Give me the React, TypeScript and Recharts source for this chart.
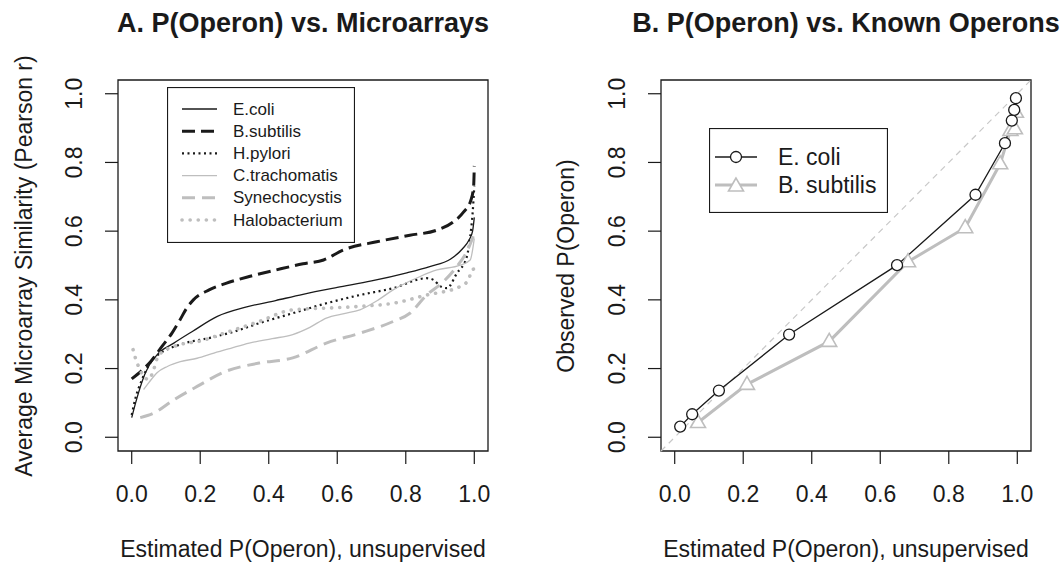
import React from 'react';
import { LineChart, Line, XAxis, YAxis, ReferenceArea, ReferenceLine, Legend } from 'recharts';

const FONT = '"Liberation Sans", Arial, Helvetica, sans-serif';
const INK = '#1a1a1a';
const GRAY = '#bebebe';

const axisTicks = [0, 0.2, 0.4, 0.6, 0.8, 1.0];
const domain: [number, number] = [-0.04, 1.04];

// Panel A: estimated P(operon) vs average microarray similarity
const ecoliP = [0, 0.01, 0.02, 0.04, 0.074, 0.123, 0.177, 0.25, 0.33, 0.42, 0.5, 0.6, 0.7, 0.8, 0.87, 0.93, 0.965, 0.985, 0.995, 1.0];
const ecoliR = [0.057, 0.095, 0.13, 0.188, 0.24, 0.274, 0.308, 0.352, 0.378, 0.398, 0.416, 0.436, 0.455, 0.478, 0.497, 0.518, 0.548, 0.575, 0.6, 0.64];

const bsubP = [0, 0.03, 0.055, 0.089, 0.118, 0.14, 0.16, 0.18, 0.226, 0.275, 0.343, 0.421, 0.5, 0.56, 0.617, 0.715, 0.812, 0.891, 0.939, 0.969, 0.99, 0.998, 1.0];
const bsubR = [0.17, 0.195, 0.22, 0.265, 0.304, 0.34, 0.375, 0.4, 0.429, 0.448, 0.468, 0.487, 0.505, 0.516, 0.545, 0.569, 0.588, 0.603, 0.627, 0.656, 0.69, 0.73, 0.79];

const hpylP = [0, 0.01, 0.03, 0.06, 0.084, 0.142, 0.24, 0.3, 0.372, 0.47, 0.568, 0.666, 0.763, 0.861, 0.881, 0.9, 0.92, 0.949, 0.978, 0.988, 0.995, 1.0];
const hpylR = [0.065, 0.11, 0.168, 0.225, 0.245, 0.27, 0.292, 0.308, 0.332, 0.361, 0.39, 0.414, 0.434, 0.463, 0.458, 0.44, 0.434, 0.477, 0.525, 0.584, 0.651, 0.73];

const ctraP = [0.035, 0.05, 0.074, 0.104, 0.142, 0.191, 0.24, 0.289, 0.343, 0.41, 0.47, 0.52, 0.568, 0.62, 0.666, 0.72, 0.763, 0.842, 0.891, 0.959, 0.988, 1.0];
const ctraR = [0.139, 0.159, 0.188, 0.206, 0.22, 0.23, 0.245, 0.259, 0.274, 0.287, 0.299, 0.32, 0.347, 0.36, 0.371, 0.4, 0.429, 0.468, 0.487, 0.501, 0.516, 0.579];

const synP = [0.025, 0.064, 0.123, 0.191, 0.27, 0.372, 0.47, 0.568, 0.666, 0.763, 0.812, 0.861, 0.91, 0.949, 0.978, 1.0];
const synR = [0.057, 0.07, 0.109, 0.148, 0.19, 0.216, 0.231, 0.274, 0.303, 0.337, 0.361, 0.414, 0.453, 0.497, 0.54, 0.593];

const haloP = [0.004, 0.011, 0.02, 0.035, 0.05, 0.064, 0.079, 0.142, 0.2, 0.27, 0.372, 0.47, 0.568, 0.666, 0.763, 0.861, 0.959, 0.983, 0.993, 1.0];
const haloR = [0.255, 0.23, 0.206, 0.177, 0.168, 0.197, 0.24, 0.27, 0.28, 0.303, 0.337, 0.371, 0.376, 0.381, 0.39, 0.414, 0.439, 0.458, 0.487, 0.49];

// Panel B: estimated vs observed P(operon)
const ecoliEst = [0.016, 0.051, 0.129, 0.334, 0.649, 0.878, 0.964, 0.984, 0.991, 0.996];
const ecoliObs = [0.031, 0.067, 0.136, 0.299, 0.501, 0.706, 0.856, 0.922, 0.953, 0.987];
const bsubEst = [0.068, 0.211, 0.451, 0.681, 0.848, 0.95, 0.98, 0.993, 0.996];
const bsubObs = [0.043, 0.154, 0.279, 0.511, 0.61, 0.796, 0.893, 0.898, 0.946];

const zip = (xs: number[], ys: number[]) => xs.map((x, i) => ({ x, y: ys[i] }));

type Style = { name: string; data: { x: number; y: number }[]; stroke: string; width: number; dash?: string; cap?: 'round' | 'butt' };

const seriesA: Style[] = [
  { name: 'E.coli', data: zip(ecoliP, ecoliR), stroke: INK, width: 1.3 },
  { name: 'B.subtilis', data: zip(bsubP, bsubR), stroke: INK, width: 3, dash: '13 6' },
  { name: 'H.pylori', data: zip(hpylP, hpylR), stroke: INK, width: 2.2, dash: '2 3.5' },
  { name: 'C.trachomatis', data: zip(ctraP, ctraR), stroke: GRAY, width: 1.3 },
  { name: 'Synechocystis', data: zip(synP, synR), stroke: GRAY, width: 3, dash: '13 7' },
  { name: 'Halobacterium', data: zip(haloP, haloR), stroke: GRAY, width: 3.6, dash: '0.1 8', cap: 'round' },
];

const textStyle = { fontFamily: FONT, fill: INK };

const YTick = (props: any) => {
  const { x, y, payload } = props;
  return (
    <text x={x} y={y} transform={`rotate(-90 ${x} ${y})`} textAnchor="middle" fontSize={23} {...textStyle}>
      {Number(payload.value).toFixed(1)}
    </text>
  );
};

const xTitle = (cx: number) => () => (
  <text x={cx} y={557} textAnchor="middle" fontSize={23} {...textStyle}>
    Estimated P(Operon), unsupervised
  </text>
);

const yTitle = (bx: number, label: string) => () => (
  <text x={bx} y={266} transform={`rotate(-90 ${bx} 266)`} textAnchor="middle" fontSize={23} {...textStyle}>
    {label}
  </text>
);

const LegendA = () => (
  <svg width={188} height={156} style={{ display: 'block' }}>
    <rect x={0.5} y={0.5} width={187} height={155} fill="#fff" stroke={INK} strokeWidth={1.2} />
    {seriesA.map((s, i) => {
      const y = 22 + i * 22.2;
      return (
        <g key={s.name}>
          <line x1={15} x2={50} y1={y} y2={y} stroke={s.stroke} strokeWidth={s.width} strokeDasharray={s.dash} strokeLinecap={s.cap || 'butt'} />
          <text x={66} y={y} dominantBaseline="central" fontSize={17} {...textStyle}>{s.name}</text>
        </g>
      );
    })}
  </svg>
);

const triangle = (cx: number, cy: number, key?: any) => (
  <polygon key={key} points={`${cx},${cy - 8} ${cx - 7.5},${cy + 5} ${cx + 7.5},${cy + 5}`} fill="#fff" stroke={GRAY} strokeWidth={1.6} />
);

const LegendB = () => (
  <svg width={179} height={85} style={{ display: 'block' }}>
    <rect x={0.5} y={0.5} width={178} height={84} fill="#fff" stroke={INK} strokeWidth={1.2} />
    <line x1={6} x2={48} y1={29} y2={29} stroke={INK} strokeWidth={1.3} />
    <circle cx={27} cy={29} r={5.5} fill="#fff" stroke={INK} strokeWidth={1.3} />
    <text x={69} y={29} dominantBaseline="central" fontSize={23} {...textStyle}>E. coli</text>
    <line x1={6} x2={48} y1={57} y2={57} stroke={GRAY} strokeWidth={3} />
    {triangle(27, 58)}
    <text x={69} y={57} dominantBaseline="central" fontSize={23} {...textStyle}>B. subtilis</text>
  </svg>
);

const titleStyle: React.CSSProperties = {
  position: 'absolute', top: 10, width: 520, textAlign: 'center',
  fontFamily: FONT, fontWeight: 'bold', fontSize: 27, lineHeight: '27px', color: INK,
};

export default function App() {
  return (
    <div style={{ position: 'absolute', left: 0, top: 0, width: 1062, height: 562, background: '#fff' }}>
      <div style={{ ...titleStyle, left: 303 - 260 }}>A. P(Operon) vs. Microarrays</div>
      <div style={{ ...titleStyle, left: 846 - 260 }}>B. P(Operon) vs. Known Operons</div>

      <div style={{ position: 'absolute', left: 0, top: 0 }}>
        <LineChart width={531} height={562} margin={{ top: 80, right: 43, bottom: 0, left: 0 }}>
          <XAxis type="number" dataKey="x" domain={domain} ticks={axisTicks} allowDataOverflow
            height={111} axisLine={false} tickSize={13} tickMargin={22}
            tickLine={{ stroke: INK, strokeWidth: 1.2 }}
            tick={{ fontSize: 23, fontFamily: FONT, fill: INK }}
            tickFormatter={(v: number) => v.toFixed(1)} label={xTitle(303)} />
          <YAxis type="number" domain={domain} ticks={axisTicks} allowDataOverflow
            width={118} axisLine={false} tickSize={13} tickMargin={23}
            tickLine={{ stroke: INK, strokeWidth: 1.2 }} tick={<YTick />}
            label={yTitle(32, 'Average Microarray Similarity (Pearson r)')} />
          {seriesA.map((s) => (
            <Line key={s.name} data={s.data} dataKey="y" name={s.name} type="monotone"
              stroke={s.stroke} strokeWidth={s.width} strokeDasharray={s.dash}
              strokeLinecap={s.cap || 'butt'} dot={false} isAnimationActive={false} />
          ))}
          <ReferenceArea x1={-0.04} x2={1.04} y1={-0.04} y2={1.04} fill="none" fillOpacity={0}
            stroke={INK} strokeWidth={1.3} />
          <Legend layout="vertical" align="center" verticalAlign="middle" content={() => <LegendA />}
            wrapperStyle={{ left: 167, top: 87, width: 188, height: 156 }} />
        </LineChart>
      </div>

      <div style={{ position: 'absolute', left: 531, top: 0 }}>
        <LineChart width={531} height={562} margin={{ top: 80, right: 31, bottom: 0, left: 0 }}>
          <XAxis type="number" dataKey="x" domain={domain} ticks={axisTicks} allowDataOverflow
            height={111} axisLine={false} tickSize={13} tickMargin={22}
            tickLine={{ stroke: INK, strokeWidth: 1.2 }}
            tick={{ fontSize: 23, fontFamily: FONT, fill: INK }}
            tickFormatter={(v: number) => v.toFixed(1)} label={xTitle(315)} />
          <YAxis type="number" domain={domain} ticks={axisTicks} allowDataOverflow
            width={130} axisLine={false} tickSize={13} tickMargin={23}
            tickLine={{ stroke: INK, strokeWidth: 1.2 }} tick={<YTick />}
            label={yTitle(43, 'Observed P(Operon)')} />
          <ReferenceLine segment={[{ x: -0.04, y: -0.04 }, { x: 1.04, y: 1.04 }]}
            stroke="#c8c8c8" strokeWidth={1.2} strokeDasharray="6 5" />
          <Line data={zip(bsubEst, bsubObs)} dataKey="y" name="B. subtilis" type="linear"
            stroke={GRAY} strokeWidth={3} isAnimationActive={false}
            dot={(p: any) => triangle(p.cx, p.cy, p.key)} />
          <Line data={zip(ecoliEst, ecoliObs)} dataKey="y" name="E. coli" type="linear"
            stroke={INK} strokeWidth={1.3} isAnimationActive={false}
            dot={{ r: 5.5, fill: '#fff', stroke: INK, strokeWidth: 1.3 }} />
          <ReferenceArea x1={-0.04} x2={1.04} y1={-0.04} y2={1.04} fill="none" fillOpacity={0}
            stroke={INK} strokeWidth={1.3} />
          <Legend layout="vertical" align="center" verticalAlign="middle" content={() => <LegendB />}
            wrapperStyle={{ left: 178, top: 128, width: 179, height: 85 }} />
        </LineChart>
      </div>
    </div>
  );
}
